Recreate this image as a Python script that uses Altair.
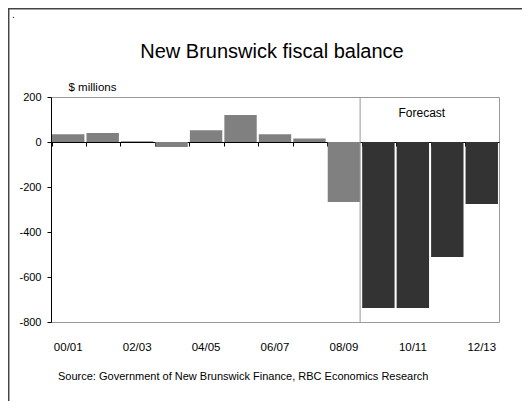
import altair as alt
import pandas as pd

years = ["00/01", "01/02", "02/03", "03/04", "04/05", "05/06", "06/07",
         "07/08", "08/09", "09/10", "10/11", "11/12", "12/13"]
balance = [34, 40, 3, -22, 52, 120, 34, 16, -267, -738, -738, -511, -276]
kind = ["Actual"] * 9 + ["Forecast"] * 4
label_years = ["00/01", "02/03", "04/05", "06/07", "08/09", "10/11", "12/13"]
y_ticks = [-800, -600, -400, -200, 0, 200]

df = pd.DataFrame({"year": years, "balance": balance, "kind": kind})

W, H = 448, 225
xscale = alt.Scale(domain=years, paddingInner=0.06, paddingOuter=0.03)
yscale = alt.Scale(domain=[-800, 200], nice=False, zero=False)
yaxis = alt.Axis(values=y_ticks, grid=False, domainColor="black",
                 tickColor="black", tickSize=4, labelPadding=6,
                 labelFontSize=11, labelColor="black",
                 labelExpr="toString(datum.value)",
                 title="$ millions", titleAngle=0, titleX=17, titleY=-7,
                 titleAlign="left", titleBaseline="alphabetic",
                 titleFontWeight="normal", titleFontSize=11.5,
                 titleColor="black")

bars = alt.Chart(df).mark_bar().encode(
    x=alt.X("year:N", scale=xscale, sort=years,
            axis=alt.Axis(values=label_years, ticks=False, domain=False,
                          labelPadding=19, labelFontSize=11.5, labelColor="black",
                          labelAngle=0, title=None)),
    y=alt.Y("balance:Q", scale=yscale, axis=yaxis),
    color=alt.Color("kind:N", scale=alt.Scale(domain=["Actual", "Forecast"],
                                              range=["#808080", "#333333"]),
                    legend=None),
)

divider = alt.Chart(pd.DataFrame({"year": ["08/09"]})).mark_rule(
    color="#999999", strokeWidth=1).encode(
    x=alt.X("year:N", bandPosition=1, scale=xscale, sort=years, axis=None),
)

fc = pd.DataFrame({"year": ["10/11"], "y": [110], "label": ["Forecast"]})
forecast = alt.Chart(fc).mark_text(fontSize=12, dx=9, baseline="alphabetic",
                                   color="black").encode(
    x=alt.X("year:N", scale=xscale, sort=years,
            axis=alt.Axis(orient="bottom", offset=-180, labels=False,
                          domainColor="black", domainWidth=1, tickColor="black",
                          tickSize=4, bandPosition=0, title=None, grid=False)),
    y=alt.Y("y:Q", scale=yscale, axis=yaxis),
    text="label:N",
)

one = pd.DataFrame({"a": [1]})
title = alt.Chart(one).mark_text(
    text="New Brunswick fiscal balance", fontSize=20, align="center",
    baseline="alphabetic", color="black").encode(x=alt.value(221), y=alt.value(-39))
source = alt.Chart(one).mark_text(
    text="Source: Government of New Brunswick Finance, RBC Economics Research",
    fontSize=11, align="left", baseline="alphabetic",
    color="black").encode(x=alt.value(7), y=alt.value(283))
dot = alt.Chart(one).mark_text(text=".", fontSize=10, align="left",
                               baseline="alphabetic", color="black").encode(
    x=alt.value(-39), y=alt.value(-79))
border_left = alt.Chart(one).mark_rule(color="#444444", strokeWidth=1.5).encode(
    x=alt.value(-42.3), y=alt.value(-89), y2=alt.value(310))
border_top = alt.Chart(one).mark_rule(color="#444444", strokeWidth=1.5).encode(
    x=alt.value(-43), x2=alt.value(480), y=alt.value(-88.3))

chart = alt.layer(bars, divider, forecast, title, source, dot,
                  border_left, border_top).resolve_axis(
    x="independent", y="shared").properties(
    width=W, height=H,
    autosize=alt.AutoSizeParams(type="none"),
    padding={"left": 43, "top": 89, "right": 23, "bottom": 79},
).configure(font="Liberation Sans").configure_view(
    stroke="#999999", strokeWidth=1)

chart.save("out.html", embed_options={"renderer": "svg", "actions": False})
